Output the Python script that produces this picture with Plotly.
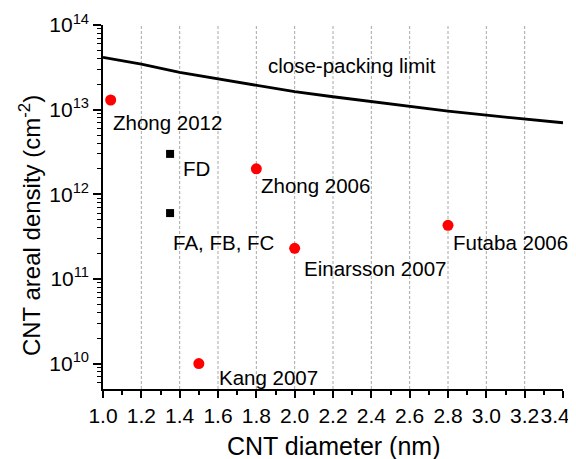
import math
import plotly.graph_objects as go

# Close-packing limit curve
limit_d = [1.0, 1.2, 1.4, 1.6, 1.8, 2.0, 2.2, 2.4, 2.6, 2.8, 3.0, 3.2, 3.4]
limit_n = [4.15e13, 3.45e13, 2.75e13, 2.3e13, 1.91e13, 1.63e13, 1.42e13, 1.24e13,
           1.08e13, 9.6e12, 8.6e12, 7.7e12, 7.0e12]

# Literature points (red circles)
lit_labels = ["Zhong 2012", "Zhong 2006", "Einarsson 2007", "Futaba 2006", "Kang 2007"]
lit_d = [1.04, 1.8, 2.0, 2.8, 1.5]
lit_n = [1.3e13, 2.0e12, 2.3e11, 4.3e11, 1.0e10]

# This work (black squares)
sq_labels = ["FD", "FA, FB, FC"]
sq_d = [1.35, 1.35]
sq_n = [3.0e12, 6.0e11]

x_ticks = [1.0, 1.2, 1.4, 1.6, 1.8, 2.0, 2.2, 2.4, 2.6, 2.8, 3.0, 3.2, 3.4]
x_ticktext = ["1.0", "1.2", "1.4", "1.6", "1.8", "2.0", "2.2", "2.4", "2.6", "2.8",
              "3.0", "3.2", "3.4\u00a0\u00a0\u2009"]
y_ticks = [1e10, 1e11, 1e12, 1e13, 1e14]
y_ticktext = ["10<sup>10</sup>", "10<sup>11</sup>", "10<sup>12</sup>",
              "10<sup>13</sup>", "10<sup>14</sup>"]
curve_label = "close-packing limit"

# label pixel offsets (style)
lit_shift = [(0, -22), (3, -17), (7, -20), (3, -17), (18, -14)]
sq_shift = [(11, -15), (1, -29)]

FONT = "Liberation Sans, Arial, sans-serif"
X_RANGE = [1.0, 3.4]
Y_RANGE = [9.7, 14]

fig = go.Figure()
fig.add_trace(go.Scatter(x=limit_d, y=limit_n, mode="lines",
                         line=dict(color="black", width=2.8), showlegend=False))
fig.add_trace(go.Scatter(x=lit_d, y=lit_n, mode="markers",
                         marker=dict(color="#ff0000", size=11, symbol="circle"),
                         showlegend=False))
fig.add_trace(go.Scatter(x=sq_d, y=sq_n, mode="markers",
                         marker=dict(color="black", size=8, symbol="square"),
                         showlegend=False))

anns = []
for lab, xd, yd, (dx, dy) in zip(lit_labels, lit_d, lit_n, lit_shift):
    anns.append(dict(x=xd, y=math.log10(yd), text=lab, showarrow=False,
                     xanchor="left", yanchor="middle", xshift=dx, yshift=dy,
                     font=dict(size=20.5, color="black", family=FONT)))
for lab, xd, yd, (dx, dy) in zip(sq_labels, sq_d, sq_n, sq_shift):
    anns.append(dict(x=xd, y=math.log10(yd), text=lab, showarrow=False,
                     xanchor="left", yanchor="middle", xshift=dx, yshift=dy,
                     font=dict(size=20.5, color="black", family=FONT)))
anns.append(dict(x=2.3, y=13.527, text=curve_label, showarrow=False,
                 xanchor="center", yanchor="middle",
                 font=dict(size=20.5, color="black", family=FONT)))
anns.append(dict(x=0.5, y=-0.157, xref="paper", yref="paper",
                 text="CNT diameter (nm)", showarrow=False,
                 xanchor="center", yanchor="middle",
                 font=dict(size=25, color="black", family=FONT)))
anns.append(dict(x=-0.159, y=0.45, xref="paper", yref="paper",
                 text="CNT areal density (cm<sup>-2</sup>)", showarrow=False,
                 textangle=-90, xanchor="center", yanchor="middle",
                 font=dict(size=24, color="black", family=FONT)))

# grid lines from the tick arrays (interior ticks only)
shapes = []
for xv in x_ticks:
    if X_RANGE[0] < xv < X_RANGE[1]:
        shapes.append(dict(type="line", xref="x", yref="paper", x0=xv, x1=xv, y0=0, y1=1,
                           layer="below", line=dict(color="#a8a8a8", width=1, dash="3px,2px")))
for yv in y_ticks:
    lv = math.log10(yv)
    if Y_RANGE[0] < lv < Y_RANGE[1]:
        shapes.append(dict(type="line", xref="paper", yref="y", x0=0, x1=1, y0=lv, y1=lv,
                           layer="below", line=dict(color="#b4b4b4", width=1, dash="2px,1px")))

minor_y = [m * 10 ** e for e in range(9, 14) for m in range(2, 10) if m * 10 ** e >= 5e9]

fig.update_layout(
    width=568, height=451,
    margin=dict(l=95, r=13, t=17, b=70),
    paper_bgcolor="white", plot_bgcolor="white",
    font=dict(family=FONT, color="black"),
    annotations=anns,
    shapes=shapes,
    xaxis=dict(range=X_RANGE, tickvals=x_ticks, ticktext=x_ticktext, automargin=False,
               ticklabeloverflow="allow", tickangle=0,
               ticks="outside", ticklen=7, tickwidth=1.5, tickcolor="black",
               showline=True, linecolor="black", linewidth=1.5,
               showgrid=False, zeroline=False, tickfont=dict(size=21, family=FONT),
               minor=dict(dtick=0.1, ticks="outside", ticklen=4, tickwidth=1.5,
                          tickcolor="black", showgrid=False)),
    yaxis=dict(type="log", range=Y_RANGE, tickvals=y_ticks, ticktext=y_ticktext,
               automargin=False, ticklabeloverflow="allow",
               ticks="outside", ticklen=8, tickwidth=1.5, tickcolor="black",
               showline=True, linecolor="black", linewidth=1.5,
               showgrid=False, zeroline=False, tickfont=dict(size=21, family=FONT),
               minor=dict(tickvals=minor_y, ticks="outside", ticklen=4, tickwidth=1.2,
                          tickcolor="black", showgrid=False)),
)

fig.write_html("out.html")
